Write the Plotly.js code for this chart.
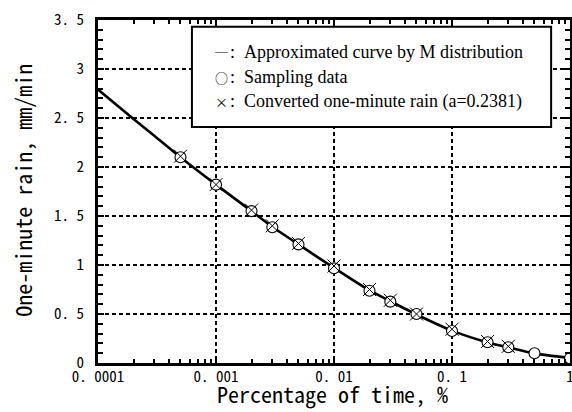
<!DOCTYPE html>
<html>
<head>
<meta charset="utf-8">
<script src="https://cdn.plot.ly/plotly-3.0.1.min.js"></script>
<style>html,body{margin:0;padding:0;background:#fff;}#chart{width:572px;height:412px;}</style>
</head>
<body>
<div id="chart"></div>
<script>
// Approximated curve by M distribution
const curveX = [0.0001, 0.0002, 0.0003, 0.0005, 0.001, 0.002, 0.003, 0.005, 0.01, 0.02, 0.03, 0.05, 0.1, 0.2, 0.3, 0.5, 1];
const curveY = [2.79, 2.49, 2.32, 2.10, 1.82, 1.55, 1.39, 1.21, 0.97, 0.74, 0.63, 0.495, 0.33, 0.21, 0.16, 0.098, 0.05];
// Sampling data
const sampleX = [0.0005, 0.001, 0.002, 0.003, 0.005, 0.01, 0.02, 0.03, 0.05, 0.1, 0.2, 0.3, 0.5, 1];
const sampleY = [2.10, 1.82, 1.55, 1.385, 1.21, 0.966, 0.738, 0.626, 0.50, 0.327, 0.211, 0.16, 0.099, 0.048];
// Converted one-minute rain (a=0.2381)
const convX = [0.0005, 0.001, 0.002, 0.003, 0.005, 0.01, 0.02, 0.03, 0.05, 0.1, 0.2, 0.3];
const convY = [2.11, 1.82, 1.56, 1.40, 1.22, 0.99, 0.75, 0.64, 0.50, 0.345, 0.22, 0.17];

const xTickVals = [0.0001, 0.001, 0.01, 0.1, 1];
const xTickText = ['0. 0001', '0. 001', '0. 01', '0. 1', '1'];
const yTickVals = [0, 0.5, 1, 1.5, 2, 2.5, 3, 3.5];
const yTickText = ['0', '0. 5', '1', '1. 5', '2', '2. 5', '3', '3. 5'];

const xTitle = 'Percentage of time, %';
const yTitle = 'One-minute rain, mm/min';

const legendSymbols = ['─', '○', '×'];
const legendTexts = [
  ':\u2002Approximated curve by M distribution',
  ':\u2002Sampling data',
  ':\u2002Converted one-minute rain (a=0.2381)'
];
const legendRowY = [0.9076, 0.8327, 0.7618];

const monoFont = 'Noto Sans Mono CJK JP, Liberation Mono, monospace';

const traces = [
  {x: curveX, y: curveY, type: 'scatter', mode: 'lines',
   line: {color: '#000', width: 2.6, shape: 'spline', smoothing: 0.6}, hoverinfo: 'skip'},
  {x: sampleX, y: sampleY, type: 'scatter', mode: 'markers',
   marker: {symbol: 'circle', size: 11, color: '#fff', line: {color: '#000', width: 1.1}}},
  {x: convX, y: convY, type: 'scatter', mode: 'markers',
   marker: {symbol: 'x-thin-open', size: 13, color: '#000', line: {color: '#000', width: 1}}}
];

const axisCommon = {
  showline: true, linecolor: '#000', linewidth: 3, mirror: 'allticks',
  ticks: 'inside', tickcolor: '#000', tickwidth: 2, ticklen: 6,
  showgrid: true, gridcolor: '#000', gridwidth: 2, griddash: '4px,3px',
  zeroline: false, ticklabeloverflow: 'allow',
  tickfont: {family: monoFont, size: 15, color: '#000'}
};

const layout = {
  width: 572, height: 412,
  margin: {l: 98, r: 2, t: 20, b: 49},
  paper_bgcolor: '#fff', plot_bgcolor: '#fff',
  showlegend: false,
  xaxis: Object.assign({}, axisCommon, {
    type: 'log', range: [-4, 0],
    tickmode: 'array', tickvals: xTickVals, ticktext: xTickText,
    ticklabelstandoff: -2,
    minor: {ticks: 'inside', ticklen: 4, tickwidth: 2, tickcolor: '#000', dtick: 'D1', showgrid: false}
  }),
  yaxis: Object.assign({}, axisCommon, {
    range: [0, 3.5],
    tickmode: 'array', tickvals: yTickVals, ticktext: yTickText,
    ticklabelstandoff: 8,
    minor: {ticks: 'inside', ticklen: 5, tickwidth: 2, tickcolor: '#000', dtick: 0.1, showgrid: false}
  }),
  shapes: [
    {type: 'rect', xref: 'paper', yref: 'paper', x0: 0.199, x1: 0.96, y0: 0.688, y1: 0.98,
     line: {color: '#000', width: 2}, fillcolor: '#fff', layer: 'above'}
  ],
  annotations: [
    {text: xTitle, xref: 'paper', yref: 'paper', x: 0.497, y: -0.088,
     xanchor: 'center', yanchor: 'middle', showarrow: false,
     font: {family: monoFont, size: 22, color: '#000'}},
    {text: yTitle, xref: 'paper', yref: 'paper', x: -0.161, y: 0.502, textangle: -90,
     xanchor: 'center', yanchor: 'middle', showarrow: false,
     font: {family: monoFont, size: 22, color: '#000'}}
  ].concat(legendSymbols.map((s, i) => ({
    text: s, xref: 'paper', yref: 'paper', x: 0.2436, y: legendRowY[i],
    xanchor: 'left', yanchor: 'middle', showarrow: false,
    font: {family: 'Noto Sans CJK JP, sans-serif', size: 13, color: '#000'}
  }))).concat(legendTexts.map((t, i) => ({
    text: t, xref: 'paper', yref: 'paper', x: 0.2755, y: legendRowY[i],
    xanchor: 'left', yanchor: 'middle', showarrow: false,
    font: {family: 'Liberation Serif, serif', size: 18, color: '#000'}
  })))
};

Plotly.newPlot('chart', traces, layout, {displayModeBar: false, staticPlot: true});
</script>
</body>
</html>
